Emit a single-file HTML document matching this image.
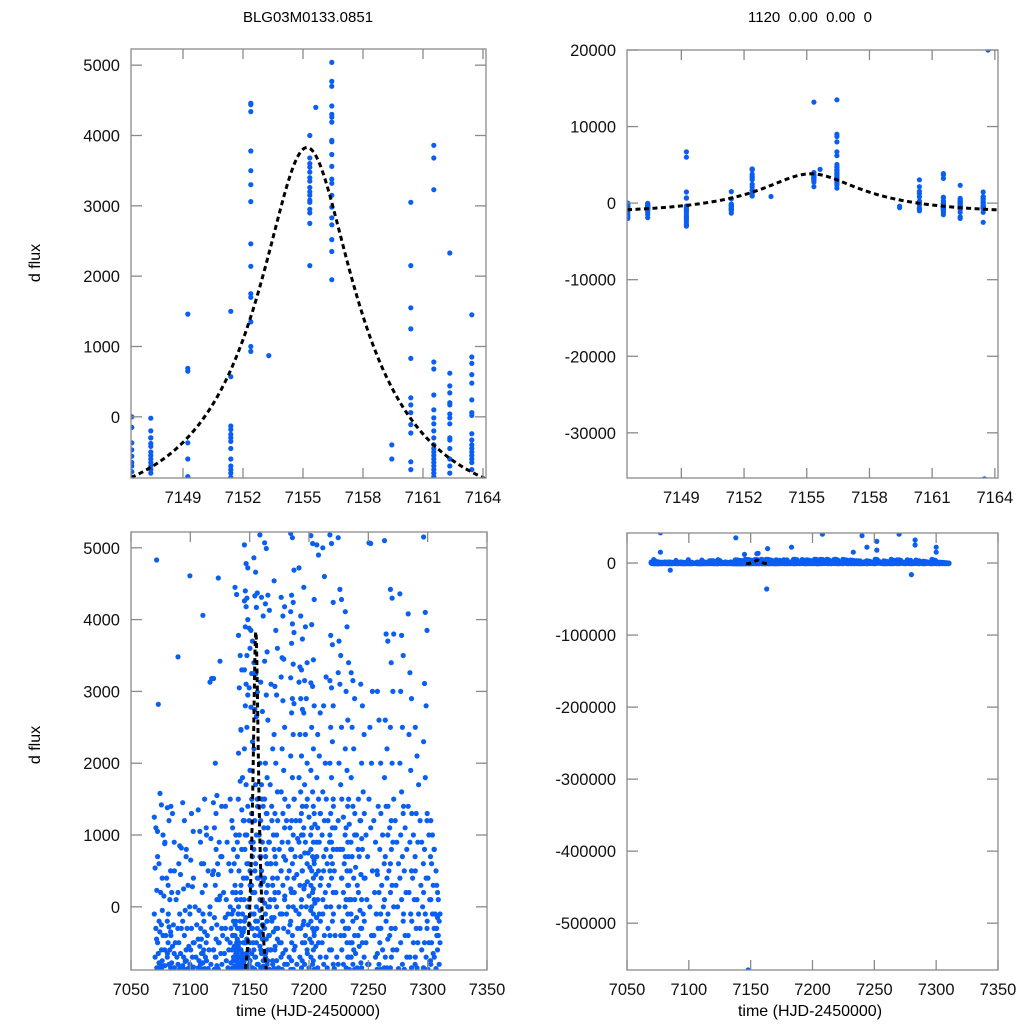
<!DOCTYPE html>
<html><head><meta charset="utf-8">
<style>
html,body{margin:0;padding:0;background:#fff;width:1024px;height:1024px;overflow:hidden;position:relative;}
svg{display:block;position:absolute;left:0;top:0;font-family:"Liberation Sans",Arial,sans-serif;}
</style></head>
<body>
<svg id="chart" width="1024" height="1024" viewBox="0 0 1024 1024" overflow="hidden" xmlns="http://www.w3.org/2000/svg">
<text x="308" y="22" font-size="15" text-anchor="middle">BLG03M0133.0851</text>
<text x="810" y="22" font-size="15" text-anchor="middle" xml:space="preserve">1120  0.00  0.00  0</text>
<text transform="translate(40,263) rotate(-90)" font-size="16" text-anchor="middle">d flux</text>
<text transform="translate(40,745) rotate(-90)" font-size="16" text-anchor="middle">d flux</text>
<text x="308" y="1016" font-size="16" text-anchor="middle">time (HJD-2450000)</text>
<text x="810" y="1016" font-size="16" text-anchor="middle">time (HJD-2450000)</text>
</svg>
<script>
// ---- zoom-window data (t, flux clusters) ----
const winTimes = [7146.5,7147.45,7149.3,7151.45,7152.45,7153.35,7155.4,7155.7,7156.5,7159.5,7160.45,7161.6,7162.4,7163.5];
const winFlux = [
 [0,-150,-370,-470,-560,-650,-780,-860,-1200,-1500,-1800,-2000,-1000,-700],
 [-20,-200,-300,-380,-420,-500,-550,-600,-650,-700,-750,-800,-1200,-1500,-1900,-1000,-300],
 [6700,6000,1460,690,650,-370,-600,-850,-1000,-1500,-1800,-2000,-2200,-2500,-2800,-3000,-1200],
 [1500,570,-130,-180,-250,-300,-350,-450,-600,-700,-750,-800,-860,-1000,-1300],
 [4460,4440,4340,3780,3500,3300,3060,2460,2140,1750,1700,1350,1000,930],
 [870],
 [4000,3680,3600,3550,3480,3400,3350,3260,3200,3150,3080,3050,2950,2900,2750,2150,13200],
 [4400],
 [5040,4770,4700,4420,4300,4260,4190,3930,3910,3730,3560,3380,3320,3150,2980,2830,2730,2520,2350,1950,13500,9000,8700,8000,6700,6200],
 [-400,-600],
 [3050,2150,1550,1250,830,270,170,60,-110,-230,-640,-750,-1000],
 [3860,3680,3230,780,680,310,100,-15,-100,-200,-300,-400,-450,-500,-550,-600,-650,-700,-750,-800,-850,-1000,-1500,-1200],
 [2330,620,440,340,200,170,40,-15,-100,-300,-330,-450,-600,-700,-800,-1200,-1800,-2000],
 [1450,850,760,600,480,240,60,20,-240,-330,-400,-450,-500,-550,-600,-650,-750,-1200,-2500]
];
const winOutT = [7163.67,7163.5];
const winOutF = [20000,-36000];
// ---- full season data ----
const nightTimes = [7071,7073,7077,7082,7085,7091,7095,7101,7108,7112,7118,7121,7125,7131,7135,7139,7142,7144,7147,7151,7155,7160,7164,7168,7172,7178,7186,7193,7197,7203,7208,7213,7219,7226,7232,7237,7245,7252,7259,7265,7270,7278,7285,7291,7298,7304,7309];
const nightFlux = [
 [1250,1100,700,540,230,-100,-300,-500,-700,-850],
 [4830,2820,1580,1050,-200,-450,-650,-800,-870],
 [1420,1000,880,400,150,-250,-400,-600,-750,-820,-860],
 [1380,1200,500,300,100,-200,-280,-350,-500,-600,-700,-800,-850],
 [1400,1300,900,200,-250,-400,-550,-650,-780,-850],
 [3480,850,820,600,450,200,-100,-300,-500,-650,-800,-860],
 [1450,1200,700,250,-50,-200,-400,-600,-700,-760,-820,-870],
 [4610,1300,1050,650,280,-100,-300,-500,-600,-700,-800,-850],
 [1350,1050,600,-50,-300,-450,-550,-650,-750,-800,-850],
 [4060,1500,1100,600,300,-100,-350,-500,-600,-700,-780,-860],
 [3130,3180,1450,950,450,0,-300,-600,-800],
 [3180,2000,1550,1100,800,500,300,100,-150,-450,-600,-700,-820,-870],
 [4580,3420,1400,900,700,450,150,-300,-500,-650,-870],
 [1400,900,600,100,-100,-300,-450,-600,-750,-850],
 [1500,1200,800,500,200,0,-100,-200,-300,-400,-500,-600,-700,-780,-850],
 [4450,4350,1500,1000,700,300,100,-100,-200,-300,-400,-500,-550,-600,-650,-700,-750,-800,-850,-870],
 [3780,3500,3300,3050,2460,2140,1750,1350,1000,300,0,-200,-350,-500,-600,-700,-800,-860],
 [2470,1800,1200,800,400,100,-100,-300,-400,-500,-600,-650,-700,-750,-800,-850],
 [5040,4780,4720,4400,4300,4260,4180,4000,3900,3500,3300,3100,2950,2800,2500,2200,1700,1400,1000,600,-200,-500,-700,-850],
 [3880,3850,3700,3600,3250,3050,2780,2300,1900,1500,1200,900,700,500,300,100,-100,-300,-500,-650,-800],
 [4860,4660,4370,4330,4170,3400,3240,2990,2750,2650,2200,1700,1500,1200,1000,800,600,400,200,0,-100,-200,-300,-400,-500,-600,-700,-800,-870],
 [5180,4310,4050,3130,2720,2000,1700,1400,1200,900,700,500,400,300,100,-50,-150,-250,-350,-450,-550,-650,-750,-850],
 [5070,4990,4340,4220,3550,3420,2950,2600,2000,1800,1500,1300,1100,800,600,400,200,0,-100,-200,-300,-450,-600,-700,-800,-870],
 [4130,3100,2200,1700,1200,900,600,300,100,-200,-400,-600,-800],
 [4540,3850,3600,3070,2950,2400,2000,1600,1300,1000,800,600,400,200,0,-150,-300,-450,-600,-750,-860],
 [4310,4050,4180,3470,3450,3200,2870,2500,2200,1900,1600,1300,1100,900,700,500,300,100,-100,-300,-500,-650,-800,-870],
 [5200,5140,4690,4340,4240,4110,3940,3820,3670,3380,3190,2900,2830,2700,2400,2100,1800,1500,1200,1000,800,600,400,200,0,-200,-400,-600,-750,-870],
 [4720,4050,3730,3340,3300,3130,2900,2750,2400,2100,1800,1600,1400,1200,1000,900,700,500,300,100,-100,-300,-500,-700,-850],
 [4450,3900,3400,3150,2900,2700,2400,2000,1700,1400,1100,900,600,300,0,-200,-400,-600,-800],
 [5170,5060,4280,3930,3440,3120,3070,2800,2500,2200,1900,1600,1300,1100,900,800,700,600,500,400,300,200,100,0,-100,-200,-300,-400,-500,-600,-700,-800,-870],
 [5040,4900,2700,2400,2100,1800,1500,1300,1100,900,700,500,300,100,-100,-300,-500,-700,-850],
 [5000,4600,3200,2800,2000,1600,1200,800,500,200,-100,-400,-700],
 [5180,5060,4240,3780,3650,3150,3050,2800,2500,2300,2000,1800,1500,1300,1100,1000,900,800,700,600,500,400,200,0,-200,-400,-600,-800],
 [5140,4420,4280,3700,3500,3260,3100,2500,2000,1700,1200,800,400,0,-400,-800],
 [4110,3900,3400,3000,2600,2200,1900,1500,1100,900,700,500,300,100,-100,-300,-500,-700,-850],
 [3260,3150,2900,2500,2200,1800,1400,1000,700,400,100,-200,-400,-500,-600,-700,-800,-870],
 [3100,2800,2400,2000,1600,1200,800,400,100,-100,-300,-500,-700,-850],
 [5070,5060,3000,2500,2000,1500,1100,500,0,-400,-800],
 [3000,2600,2000,1400,800,450,200,-100,-300,-500,-650,-800,-870],
 [5100,3800,3700,2600,2200,1800,1400,1000,700,400,100,-200,-450,-700,-850],
 [4420,4300,3800,3400,3000,2500,2000,1500,1200,900,600,300,0,-300,-600,-850],
 [4360,3780,3500,3000,2500,2000,1600,1300,1000,700,400,100,-200,-500,-800],
 [4080,3260,2900,2400,1900,1400,900,500,200,-100,-400,-700,-850],
 [2500,2100,1700,1300,900,500,100,-100,-300,-500,-700,-850],
 [5150,4100,3850,3110,2800,2300,1800,1200,800,400,200,-100,-300,-500,-700,-850],
 [1200,1000,800,600,300,100,-100,-300,-500,-650,-800],
 [300,100,-100,-150,-200,-300,-400,-500,-600,-800]
];
// second pass of nights (denser low-flux observations)
const nightTimes2 = [7075,7080,7088,7098,7104,7110,7115,7123,7128,7137,7141,7146,7149,7153,7158,7162,7166,7170,7175,7181,7184,7189,7195,7200,7205,7211,7216,7222,7229,7234,7240,7243,7248,7256,7262,7268,7274,7281,7288,7295,7301,7307];
const nightFlux2 = [
 [600,200,-50,-350,-600,-780,-870],
 [900,400,-100,-400,-650,-820],
 [500,100,-300,-500,-700,-850],
 [800,300,0,-300,-550,-750,-860],
 [400,0,-250,-500,-700,-840],
 [900,200,-200,-450,-650,-800,-870],
 [1000,500,-100,-400,-600,-750,-860],
 [1300,600,100,-250,-500,-700,-850],
 [700,200,-150,-400,-650,-800],
 [1100,600,200,-50,-250,-400,-550,-650,-750,-820,-870],
 [900,500,200,-100,-300,-450,-600,-700,-780,-850],
 [1200,800,400,100,-150,-350,-500,-650,-760,-860],
 [1000,600,300,0,-250,-450,-600,-750,-850],
 [1300,900,500,200,-100,-300,-500,-700,-850],
 [1400,1000,700,400,100,-200,-400,-600,-800],
 [1500,1100,700,350,50,-250,-450,-650,-830],
 [1300,900,600,300,0,-200,-400,-600,-750,-870],
 [1400,1000,700,400,100,-150,-350,-550,-750,-860],
 [1200,800,500,200,-100,-300,-500,-700,-850],
 [1500,1200,900,650,400,150,-100,-350,-600,-800],
 [1400,1100,800,500,250,0,-250,-500,-700,-870],
 [1500,1200,950,700,450,200,-50,-300,-550,-800],
 [1300,1000,750,500,250,0,-250,-500,-750],
 [1500,1250,1000,750,550,350,150,-50,-250,-450,-650,-850],
 [1400,1150,900,650,450,250,50,-150,-350,-550,-750,-870],
 [1300,1000,700,400,100,-200,-500,-800],
 [1500,1200,900,600,300,0,-300,-600,-850],
 [1400,1100,800,500,200,-100,-400,-700,-860],
 [1500,1250,1000,800,600,400,200,0,-200,-400,-600,-800],
 [1400,1150,900,700,500,300,100,-100,-300,-500,-700,-870],
 [1300,1000,800,550,300,100,-150,-400,-650,-850],
 [1500,1200,950,700,450,200,-50,-300,-550,-780],
 [1300,1000,700,400,100,-200,-500,-800],
 [1200,900,500,200,-100,-400,-700,-870],
 [1300,1000,600,300,0,-300,-600,-850],
 [1400,1100,800,500,200,-100,-400,-700],
 [1200,900,600,300,0,-300,-600,-860],
 [1400,1100,800,500,200,-100,-400,-700,-870],
 [1300,1000,700,400,100,-200,-500,-800],
 [1200,900,600,300,0,-300,-600,-850],
 [1300,1000,700,400,100,-200,-500,-750,-870],
 [800,500,200,-100,-400,-700,-860]
];
const outT = [7077,7077,7085,7138,7145,7163,7155,7156,7163.7,7183,7208,7208,7233,7240,7244,7252,7252,7270,7283,7283,7280,7300,7300,7148];
const outF = [42000,15000,-10000,35000,12000,-36000,13000,13500,20000,22000,40000,42000,15000,38000,22000,30000,18000,40000,32000,25000,-16000,22000,15000,-565000];
// ---- microlensing model parameters ----
const modelParams = {t0:7155.2, u0:0.3, tE:7.9, base:-1400, scale:2139};
const modelRange = [7146.4, 7164.2];
// ---- tick labels ----
const ticksTopX = [7149,7152,7155,7158,7161,7164];
const ticksTLY = [0,1000,2000,3000,4000,5000];
const ticksTRY = [-30000,-20000,-10000,0,10000,20000];
const ticksBotX = [7050,7100,7150,7200,7250,7300,7350];
const ticksBLY = [0,1000,2000,3000,4000,5000];
const ticksBRY = [-500000,-400000,-300000,-200000,-100000,0];

const NS='http://www.w3.org/2000/svg';
const svg=document.getElementById('chart');
function mk(tag,attrs,parent){const e=document.createElementNS(NS,tag);for(const k in attrs)e.setAttribute(k,attrs[k]);(parent||svg).appendChild(e);return e;}
function model(t){const p=modelParams;const tau=(t-p.t0)/p.tE;const u2=p.u0*p.u0+tau*tau;const u=Math.sqrt(u2);const A=(u2+2)/(u*Math.sqrt(u2+4));return p.base+p.scale*(A-1);}

function panel(name,box,xr,yr,xt,yt,spread){
  const sx=v=>box.x0+(v-xr[0])/(xr[1]-xr[0])*(box.x1-box.x0);
  const sy=v=>box.y1-(v-yr[0])/(yr[1]-yr[0])*(box.y1-box.y0);
  const g=mk('g',{});
  
  
  const cp=mk('clipPath',{id:'clip-'+name},g);
  mk('rect',{x:box.x0,y:box.y0,width:box.x1-box.x0,height:box.y1-box.y0},cp);
  const pts=mk('g',{'clip-path':'url(#clip-'+name+')',fill:'#0a5ff2'},g);
  
  
  const add=(t,f)=>{
    const px=sx(t),py=sy(f);
    if(py<box.y0-4||py>box.y1+4||px<box.x0-4||px>box.x1+4) return;
    const c=mk('circle',{cx:px.toFixed(1),cy:py.toFixed(1),r:2.6},pts);
    
    };
  const sets=spread?[[nightTimes,nightFlux,true],[nightTimes2,nightFlux2,true]]:[[winTimes,winFlux,false]];
  sets.forEach(([T,F,j])=>{T.forEach((t,i)=>{F[i].forEach((f,k)=>{const dt=j?(((k*7)%5)-2)*0.7:(((k*3)%3)-1)*0.06;add(t+dt,f);});});});
  if(spread){outT.forEach((t,i)=>add(t,outF[i]));} else {winOutT.forEach((t,i)=>add(t,winOutF[i]));}
  let d='';const n=300;
  for(let i=0;i<=n;i++){const t=modelRange[0]+(modelRange[1]-modelRange[0])*i/n;
    let y=sy(model(t));y=Math.max(box.y0-5,Math.min(box.y1+5,y));
    d+=(i?'L':'M')+sx(t).toFixed(2)+' '+y.toFixed(2);}
  const path=mk('path',{d:d,fill:'none',stroke:'#000','stroke-width':3,'stroke-dasharray':'5 3.5','clip-path':'url(#clip-'+name+')'},g);
  
  
  const fr=mk('rect',{x:box.x0,y:box.y0,width:box.x1-box.x0,height:box.y1-box.y0,fill:'none',stroke:'#8a8a8a','stroke-width':1.3},g);
  
  
  const ax=mk('g',{stroke:'#8a8a8a','stroke-width':1.3},g);
  
  
  xt.forEach(v=>{const x=sx(v);
    mk('line',{x1:x,x2:x,y1:box.y1,y2:box.y1-10},ax);mk('line',{x1:x,x2:x,y1:box.y0,y2:box.y0+10},ax);
    const tx=mk('text',{x:x,y:box.y1+25,'font-size':16.5,'text-anchor':'middle',fill:'#111'},g);tx.textContent=v;
    
    });
  yt.forEach(v=>{const y=sy(v);
    mk('line',{x1:box.x0,x2:box.x0+11,y1:y,y2:y},ax);mk('line',{x1:box.x1,x2:box.x1-11,y1:y,y2:y},ax);
    const tx=mk('text',{x:box.x0-11,y:y+6,'font-size':16.5,'text-anchor':'end',fill:'#111'},g);tx.textContent=v;
    
    });
}
panel('panel-zoom-left',{x0:131,x1:486,y0:49,y1:478},[7146.4,7164.15],[-870,5230],ticksTopX,ticksTLY,false);
panel('panel-zoom-right',{x0:627,x1:998,y0:50,y1:478},[7146.4,7164.15],[-35900,20000],ticksTopX,ticksTRY,false);
panel('panel-season-left',{x0:131,x1:487,y0:532,y1:970},[7050,7350],[-880,5220],ticksBotX,ticksBLY,true);
panel('panel-season-right',{x0:627,x1:998,y0:533,y1:970},[7050,7350],[-565000,41700],ticksBotX,ticksBRY,true);
</script>
</body></html>
